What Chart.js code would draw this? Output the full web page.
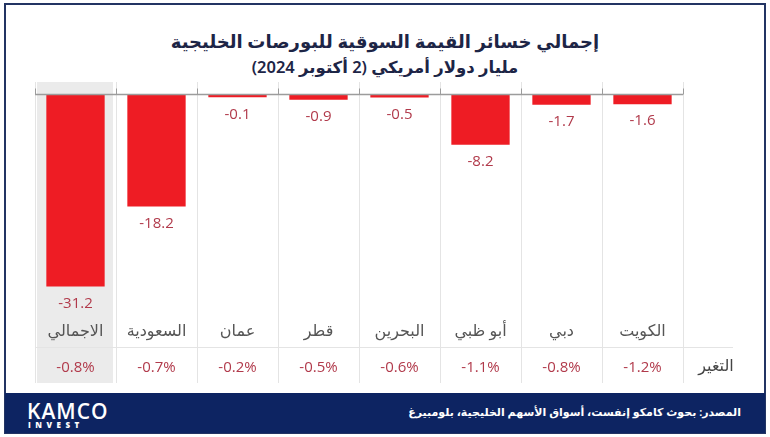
<!DOCTYPE html>
<html>
<head>
<meta charset="utf-8">
<script src="https://cdn.jsdelivr.net/npm/chart.js@4"></script>
<style>
  body { margin: 0; background: #fff; }
  #wrap { position: relative; width: 770px; height: 437px; background: #fff; overflow: hidden; font-family: "Noto Sans", "DejaVu Sans", sans-serif; }
  #frame { position: absolute; left: 4px; top: 3px; width: 762px; height: 431px; border: 2px solid #233463; box-sizing: border-box; }
  .title { position: absolute; left: 0; width: 770px; text-align: center; color: #1d2546; }
  #t1 { top: 29px; font-size: 18px; font-weight: 600; }
  #t2 { top: 55px; font-size: 16.5px; font-weight: 600; }
  #chartBox { position: absolute; left: 0; top: 0; width: 770px; height: 392px; }
  #footer { position: absolute; left: 5px; top: 393px; width: 760px; height: 40px; background: #0d2462; color: #fff; }
  #logo1 { position: absolute; left: 22px; top: 4px; font-family: "Open Sans", sans-serif; font-size: 21px; font-weight: 600; letter-spacing: 1px; }
  #logo2 { position: absolute; left: 23px; top: 26px; font-family: "Open Sans", sans-serif; font-size: 8px; font-weight: 800; letter-spacing: 4.5px; }
  #source { position: absolute; right: 24px; top: 11px; font-size: 11px; font-weight: 600; }
</style>
</head>
<body>
<div id="wrap">
  <div id="frame"></div>
  <div class="title" id="t1" dir="rtl">إجمالي خسائر القيمة السوقية للبورصات الخليجية</div>
  <div class="title" id="t2" dir="rtl">مليار دولار أمريكي (2 أكتوبر 2024)</div>
  <div id="chartBox"><canvas id="gccChart" width="770" height="392"></canvas></div>
  <div id="footer">
    <div id="logo1">KAMCO</div>
    <div id="logo2">INVEST</div>
    <div id="source" dir="rtl">المصدر: بحوث كامكو إنفست، أسواق الأسهم الخليجية، بلومبيرغ</div>
  </div>
</div>
<script>
// البيانات
const categories = ['الاجمالي', 'السعودية', 'عمان', 'قطر', 'البحرين', 'أبو ظبي', 'دبي', 'الكويت'];
const losses = [-31.2, -18.2, -0.1, -0.9, -0.5, -8.2, -1.7, -1.6];
const changes = ['-0.8%', '-0.7%', '-0.2%', '-0.5%', '-0.6%', '-1.1%', '-0.8%', '-1.2%'];
const changeLabel = 'التغير';

const RED = '#ee1c24';
const LABEL_RED = '#b13a4b';
const LINE = '#e4e4e4';

// عمود الإجمالي المظلل + خطوط الجدول (تحت المحاور)
const tablePlugin = {
    id: 'tablePlugin',
    beforeDraw(chart) {
        const { ctx, chartArea, scales } = chart;
        const x = scales.x, x2 = scales.x2;
        const step = x.getPixelForValue(1) - x.getPixelForValue(0);
        const top = chartArea.top, bottom = x2.bottom;

        ctx.save();
        ctx.fillStyle = '#ebebeb';
        const cx = x.getPixelForValue(0);
        ctx.fillRect(cx - step / 2 + 2, top, step - 5, bottom - top);

        ctx.strokeStyle = LINE;
        ctx.lineWidth = 1;
        for (let i = 0; i <= categories.length; i++) {
            const px = Math.round(x.getPixelForValue(i) - step / 2) + 0.5;
            ctx.beginPath();
            ctx.moveTo(px, top);
            ctx.lineTo(px, bottom);
            ctx.stroke();
        }
        const hy = Math.round(x.bottom) + 0.5;
        ctx.beginPath();
        ctx.moveTo(chartArea.left, hy);
        ctx.lineTo(chartArea.right + 50, hy);
        ctx.stroke();
        ctx.restore();
    },
    afterDatasetsDraw(chart) {
        const { ctx, scales, chartArea } = chart;
        const x = scales.x;
        const step = x.getPixelForValue(1) - x.getPixelForValue(0);

        // zero line with small ticks
        ctx.save();
        const zy = Math.round(scales.y.getPixelForValue(0)) + 0.5;
        ctx.strokeStyle = '#9c9c9c';
        ctx.lineWidth = 1.5;
        ctx.beginPath();
        ctx.moveTo(chartArea.left, zy);
        ctx.lineTo(chartArea.right, zy);
        ctx.stroke();
        ctx.lineWidth = 1;
        for (let i = 0; i <= categories.length; i++) {
            const px = Math.round(x.getPixelForValue(i) - step / 2) + 0.5;
            ctx.beginPath();
            ctx.moveTo(px, zy - 6);
            ctx.lineTo(px, zy);
            ctx.stroke();
        }

        // value labels under bars
        const meta = chart.getDatasetMeta(0);
        ctx.direction = 'ltr';
        ctx.font = '15px "Open Sans", sans-serif';
        ctx.fillStyle = LABEL_RED;
        ctx.textAlign = 'center';
        ctx.textBaseline = 'middle';
        meta.data.forEach((bar, i) => {
            ctx.fillText(losses[i].toFixed(1), bar.x, bar.y + 17);
        });

        // row title for the change row
        const x2 = scales.x2;
        ctx.font = '16px "Noto Sans", "DejaVu Sans", sans-serif';
        ctx.fillStyle = '#444';
        ctx.fillText(changeLabel, chartArea.right + 33, (x2.top + x2.bottom) / 2 + 1);
        ctx.restore();
    }
};

new Chart(document.getElementById('gccChart'), {
    type: 'bar',
    data: {
        labels: categories,
        datasets: [{
            data: losses,
            backgroundColor: RED,
            borderWidth: 0,
            categoryPercentage: 1,
            barPercentage: 0.72,
            minBarLength: 3
        }]
    },
    options: {
        responsive: false,
        animation: false,
        layout: { padding: { top: 82, left: 35, right: 87, bottom: 9 } },
        plugins: {
            legend: { display: false },
            tooltip: { enabled: false }
        },
        scales: {
            y: { display: false, min: -36, max: 2 },
            x: {
                weight: 0,
                grid: { display: false },
                border: { display: false },
                ticks: {
                    color: '#555',
                    font: { size: 16, family: '"Noto Sans", "DejaVu Sans", sans-serif' },
                    padding: -2,
                    maxRotation: 0,
                    autoSkip: false
                },
                afterFit: s => { s.height = 31; }
            },
            x2: {
                type: 'category',
                position: 'bottom',
                weight: 1,
                labels: changes,
                offset: true,
                grid: { display: false },
                border: { display: false },
                ticks: {
                    color: LABEL_RED,
                    font: { size: 15, family: '"Open Sans", sans-serif' },
                    padding: 4,
                    maxRotation: 0,
                    autoSkip: false
                },
                afterFit: s => { s.height = 36; }
            }
        }
    },
    plugins: [tablePlugin]
});
</script>
</body>
</html>
